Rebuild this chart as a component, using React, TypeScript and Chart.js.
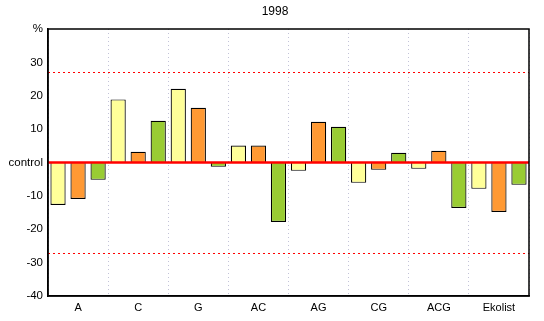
import React, { useEffect, useRef } from "react";
import { Chart, registerables } from "chart.js";
Chart.register(...registerables);

const title = "1998";
const categories = ["A", "C", "G", "AC", "AG", "CG", "ACG", "Ekolist"];
const seriesYellow = [-12.7, 18.9, 22.1, 5.1, -2.5, -6.1, -1.9, -7.9];
const seriesOrange = [-10.9, 3.2, 16.4, 5.1, 12.2, -2.2, 3.5, -14.8];
const seriesGreen = [-5.2, 12.5, -1.3, -17.8, 10.7, 2.9, -13.6, -6.7];
const limitLines = [27.2, -27.2];
const controlValue = 0;
const yMin = -40;
const yMax = 40;
const yStep = 10;

const FONT = "'Liberation Sans', Arial, sans-serif";

const overlayPlugin = {
  id: "overlay",
  beforeDatasetsDraw(chart: any) {
    const { ctx, chartArea, scales } = chart;
    const y = scales.y;
    ctx.save();
    ctx.strokeStyle = "#ff0000";
    ctx.lineWidth = 1;
    ctx.setLineDash([2, 3]);
    limitLines.forEach((v) => {
      const py = Math.round(y.getPixelForValue(v)) + 0.5;
      ctx.beginPath();
      ctx.moveTo(chartArea.left, py);
      ctx.lineTo(chartArea.right, py);
      ctx.stroke();
    });
    ctx.restore();
  },
  afterDatasetsDraw(chart: any) {
    const { ctx, chartArea, scales } = chart;
    const y = scales.y;
    ctx.save();
    ctx.strokeStyle = "#ff0000";
    ctx.lineWidth = 2.5;
    const py = y.getPixelForValue(controlValue);
    ctx.beginPath();
    ctx.moveTo(chartArea.left, py);
    ctx.lineTo(chartArea.right, py);
    ctx.stroke();
    ctx.strokeStyle = "#000";
    ctx.lineWidth = 1.5;
    ctx.strokeRect(chartArea.left, chartArea.top, chartArea.right - chartArea.left, chartArea.bottom - chartArea.top);
    ctx.fillStyle = "#000";
    ctx.font = "12px " + FONT;
    ctx.textAlign = "center";
    ctx.textBaseline = "middle";
    ctx.fillText(title, 275, 12);
    ctx.restore();
  },
};

export default function App() {
  const ref = useRef<HTMLCanvasElement>(null);
  useEffect(() => {
    document.body.style.margin = "0";
    const chart = new Chart(ref.current!, {
      type: "bar",
      data: {
        labels: categories,
        datasets: [
          { data: seriesYellow, backgroundColor: "#ffff99", borderColor: "#000", borderWidth: 1.2 },
          { data: seriesOrange, backgroundColor: "#ff9933", borderColor: "#000", borderWidth: 1.2 },
          { data: seriesGreen, backgroundColor: "#99cc33", borderColor: "#000", borderWidth: 1.2 },
        ],
      },
      options: {
        animation: false,
        responsive: false,
        devicePixelRatio: 1,
        layout: { padding: { top: 29, right: 15, left: 0, bottom: 0 } },
        plugins: { legend: { display: false }, title: { display: false }, tooltip: { enabled: false } },
        datasets: { bar: { barPercentage: 0.76, categoryPercentage: 1.0 } },
        scales: {
          x: {
            afterFit(scale: any) {
              scale.height = 25;
            },
            grid: {
              display: true,
              offset: true,
              drawTicks: false,
              color: "rgba(170,170,200,0.7)",
              lineWidth: 1,
            },
            border: { display: true, color: "#000", width: 1.5, dash: [1, 3] as any },
            ticks: { color: "#000", font: { size: 11, family: FONT }, padding: 5 },
          },
          y: {
            min: yMin,
            max: yMax,
            afterFit(scale: any) {
              scale.width = 48;
            },
            grid: { display: false, drawTicks: false },
            border: { display: true, color: "#000", width: 1.5 },
            ticks: {
              stepSize: yStep,
              color: "#000",
              font: { size: 11.5, family: FONT },
              padding: 5,
              callback: (v: any) => (v === controlValue ? "control" : v === yMax ? "%" : String(v)),
            },
          },
        },
      },
      plugins: [overlayPlugin],
    } as any);
    return () => chart.destroy();
  }, []);
  return <canvas ref={ref} width={544} height={321} style={{ display: "block" }} />;
}
